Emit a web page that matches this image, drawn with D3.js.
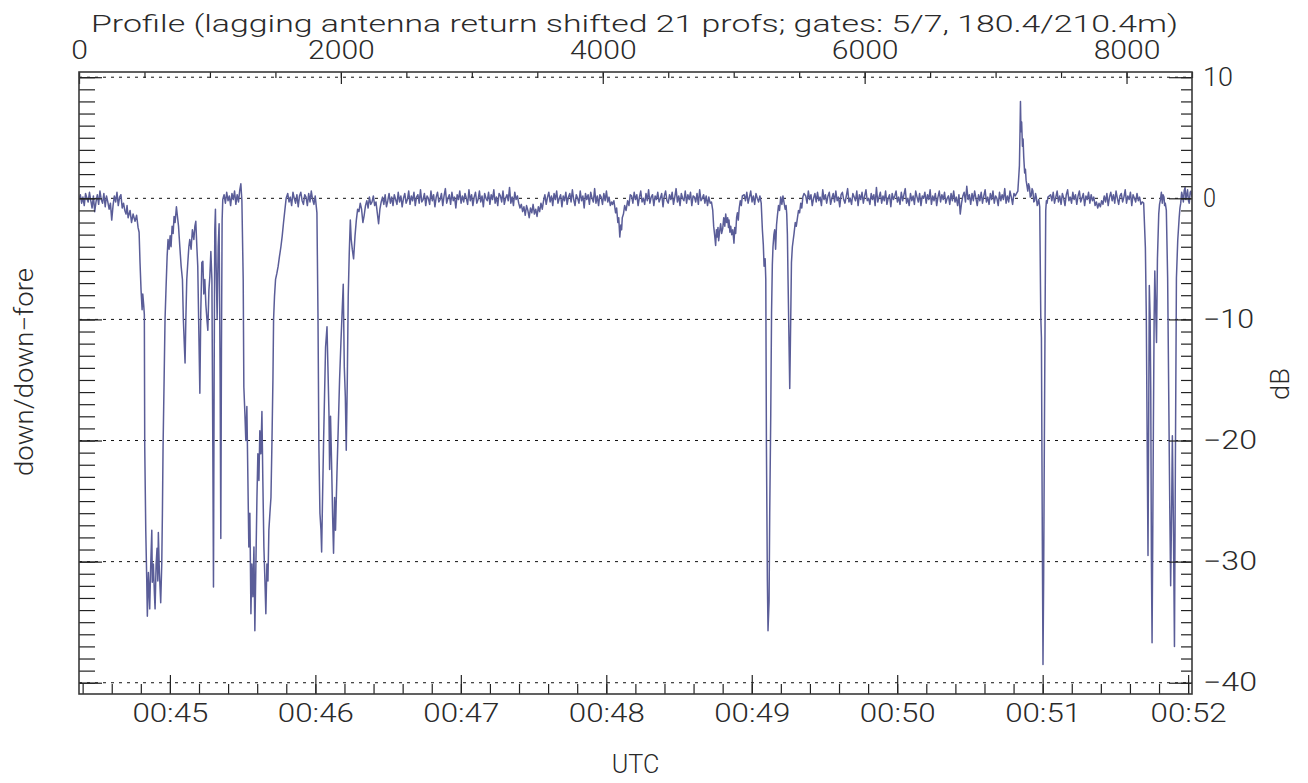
<!DOCTYPE html>
<html>
<head>
<meta charset="utf-8">
<script src="https://cdn.jsdelivr.net/npm/d3@7"></script>
<style>
  html, body { margin: 0; padding: 0; background: #fff; }
  svg { display: block; }
</style>
</head>
<body>
<script>
// ---------------- text ----------------
const titleText = "Profile (lagging antenna return shifted 21 profs; gates: 5/7, 180.4/210.4m)";
const leftTitle = "down/down\u2212fore";
const rightTitle = "dB";
const bottomTitle = "UTC";

// ---------------- ticks ----------------
const profileMajor = [0, 2000, 4000, 6000, 8000];
const utcMajorSec = [2700, 2760, 2820, 2880, 2940, 3000, 3060, 3120];
const utcLabels = ["00:45", "00:46", "00:47", "00:48", "00:49", "00:50", "00:51", "00:52"];
const dbMajor = [10, 0, -10, -20, -30, -40];

// ---------------- data (profile index, dB) ----------------
// quiet stretches: regularly sampled (start profile, sample step, values)
const quietStart = { start: 0, step: 10, values: [
  -0.1,0.3,-0.4,0.1,-0.6,0.4,0.0,-0.3,0.5,-0.2,
  -0.8,0.2,-1.1,-0.3,0.3,-0.5,0.6,-0.1,-0.4,0.4,
  -0.7,0.2,-0.3,-0.9,-0.4,-1.8,-0.6,0.2,-0.3,0.5,
  -0.6,0.1,0.3,-0.8,-0.4,-1.0] };

const eventA = [
  [359,-1.3],[367,-0.6],[375,-1.6],[390,-1.0],[401,-2.0],[413,-1.3],[428,-1.9],[440,-1.4],[451,-2.4],[459,-2.8],
  [466,-5.3],[474,-7.6],[482,-9.2],[487,-7.9],[494,-8.8],[499,-9.6],[502,-20.5],[510,-27.5],[517,-31.3],[522,-34.5],
  [530,-30.9],[535,-32.3],[540,-33.9],[548,-30.2],[556,-27.4],[560,-31.7],[568,-30.2],[576,-32.7],[581,-33.9],[589,-30.2],
  [596,-28.9],[602,-31.6],[606,-27.6],[614,-30.9],[624,-33.4],[632,-30.2],[637,-26.0],[642,-20.5],[650,-15.0],[657,-10.0],
  [665,-7.3],[673,-4.8],[680,-3.4],[688,-4.2],[696,-3.1],[703,-4.0],[711,-2.3],[719,-2.9],[726,-1.5],[734,-2.0],
  [744,-0.7],[752,-1.5],[760,-2.3],[770,-4.0],[780,-5.6],[790,-6.7],[797,-10.0],[805,-12.3],[810,-13.6],[816,-10.0],
  [823,-6.7],[831,-5.3],[839,-4.0],[846,-3.4],[856,-4.2],[866,-2.6],[877,-3.4],[885,-2.3],[892,-1.9],[900,-4.0],
  [907,-5.6],[915,-10.9],[923,-16.1],[930,-9.4],[938,-5.3],[946,-5.2],[953,-7.9],[961,-6.7],[969,-8.8],[977,-10.0],
  [984,-10.9],[992,-7.6],[999,-6.5],[1007,-4.4],[1015,-6.7],[1022,-20.5],[1027,-32.1],[1032,-15.0],[1037,-2.6],[1042,-0.9],
  [1047,-5.3],[1055,-10.0],[1063,-4.0],[1070,-2.1],[1078,-15.0],[1083,-28.1],[1088,-12.3],[1093,-1.8],[1098,-0.1],
  [1108,0.3],[1118,-0.4],[1128,0.5],[1138,-0.2],[1148,0.2],[1158,-0.6],[1168,0.4],[1178,-0.1],[1188,0.6],[1198,-0.5],
  [1208,0.3],[1218,-0.3],[1228,0.7],[1236,1.2],[1244,-0.2]];

const eventB = [
  [1254,-6.7],[1259,-15.6],[1267,-17.8],[1274,-20.0],[1282,-17.2],[1290,-23.3],[1297,-28.8],[1305,-26.0],[1313,-34.3],[1320,-30.2],
  [1328,-32.9],[1336,-28.8],[1343,-35.7],[1351,-30.2],[1359,-24.7],[1366,-21.1],[1374,-23.3],[1381,-19.2],[1389,-21.1],[1397,-17.6],
  [1404,-23.3],[1412,-28.8],[1420,-31.6],[1427,-34.3],[1435,-30.2],[1443,-31.6],[1450,-27.4],[1458,-26.0],[1466,-24.7],[1473,-20.5],
  [1481,-15.0],[1486,-10.0],[1493,-8.1],[1501,-6.7],[1511,-6.2],[1521,-5.6],[1531,-4.8],[1542,-4.0],[1552,-3.1],[1562,-2.0],
  [1572,-1.0],[1582,0.0]];

const quietB = { start: 1594, step: 10, values: [
  0.4,-0.3,0.1,-0.6,0.5,0.0,-0.4,0.3,-0.7,0.2,
  0.5,-0.2,-0.5,0.3,0.1,-0.6,0.4,-0.3,0.6,-0.1,
  -0.5,0.2] };

const eventC = [
  [1817,-1.2],[1825,-9.5],[1832,-20.5],[1840,-26.0],[1848,-27.4],[1853,-29.2],[1860,-24.7],[1868,-20.0],[1875,-16.4],[1883,-12.3],
  [1894,-10.6],[1901,-13.9],[1909,-17.8],[1914,-22.4],[1921,-18.0],[1929,-21.9],[1937,-26.3],[1944,-29.3],[1952,-24.7],[1959,-27.4],
  [1970,-22.7],[1980,-18.9],[1990,-15.0],[2001,-11.7],[2011,-9.0],[2018,-7.1],[2026,-13.9],[2034,-16.4],[2041,-20.8],[2049,-15.0],
  [2056,-8.1],[2064,-4.5],[2072,-1.8],[2079,-3.4],[2087,-4.2],[2097,-5.0],[2108,-3.1],[2118,-1.8],[2128,-0.9],[2138,-1.1]];

const quietC = { start: 2148, step: 10, values: [
  -0.4,-0.9,-2.0,-1.4,-0.6,-0.2,-0.8,0.1,-0.5,-0.3,
  0.2,-0.6,-0.3,-1.2,-2.1,-0.9,-0.3,0.1,-0.5,0.3,
  -0.7,-0.2,0.4,-0.4,0.1,-0.6,0.3,-0.1,-0.5,0.5,
  -0.3,0.2,-0.7,0.0,0.4,-0.4,-0.1,0.6,-0.5,0.2,
  -0.2,0.5,-0.6,0.1,0.3,-0.4,0.7,-0.3,-0.1,0.4,
  -0.6,0.2,0.0,-0.5,0.6,-0.2,0.3,-0.7,0.1,0.5,
  -0.3,-0.1,0.4,-0.6,0.2,0.8,-0.4,0.0,0.3,-0.5,
  0.5,-0.2,0.1,-0.8,0.3,-0.1,0.6,-0.4,0.2,-0.3,
  0.4,0.0,-0.5,0.7,-0.2,0.3,-0.6,0.1,0.5,-0.4,
  -0.1,0.6,-0.3,0.2,-0.7,0.4,0.0,-0.2,0.5,-0.5,
  0.3,-0.1,0.7,-0.4,0.1,-0.6,0.4,0.2,-0.3,0.6,
  -0.5,0.0,0.3,-0.2,0.9,-0.4,0.1,-0.6,0.5,-0.1,
  0.2,-0.4,-0.8,-0.5,-1.1,-0.7,-1.4,-0.6,-1.0,-1.6,
  -0.8,-1.2,-0.5,-1.3,-0.9,-1.5,-0.7,-1.1,-0.4,-0.9,
  -0.2,0.3,-0.5,0.1,0.5,-0.3,0.2,-0.6,0.4,-0.1,
  0.6,-0.4,0.0,0.3,-0.7,0.2,-0.2,0.5,-0.5,0.1,
  0.4,-0.3,0.7,-0.1,-0.6,0.3,0.0,-0.4,0.6,-0.2,
  0.2,-0.8,0.4,-0.1,0.3,-0.5,0.5,0.0,-0.3,0.8,
  -0.4,0.2,-0.6,0.3,0.1,-0.5,0.4,-0.2,0.6,-0.3,
  0.1,-0.6,-0.3] };

const eventD = [
  [4075,-0.5],[4085,-0.2],[4098,-1.2],[4106,-0.8],[4115,-2.0],[4122,-1.6],[4130,-3.2],[4138,-2.2],[4144,-2.6],[4149,-1.6],
  [4158,-1.3],[4167,-0.6],[4178,-1.0],[4190,-0.2],[4200,-0.6],[4210,0.3]];

const quietD = { start: 4220, step: 10, values: [
  0.2,-0.4,0.5,-0.1,0.3,-0.6,0.1,0.6,-0.3,0.0,
  -0.5,0.4,-0.2,0.7,-0.4,0.1,0.3,-0.6,0.2,-0.1,
  0.5,-0.3,0.0,0.4,-0.7,0.2,0.6,-0.2,-0.4,0.3,
  -0.1,0.5,-0.5,0.1,0.8,-0.3,0.2,-0.6,0.4,0.0,
  -0.2,0.6,-0.4,0.3,-0.1,0.5,-0.6,0.2,0.1,-0.3,
  0.4,-0.5,0.7,-0.2,0.0,0.3,-0.4,0.2,-0.6,0.1,
  -0.4] };

const eventE = [
  [4830,-0.3],[4840,-1.0],[4847,-2.3],[4855,-3.1],[4862,-3.9],[4868,-2.6],[4873,-3.2],[4880,-2.4],[4885,-3.5],[4893,-2.7],
  [4900,-2.1],[4908,-2.9],[4916,-2.5],[4924,-1.6],[4932,-2.3],[4939,-1.3],[4946,-2.0],[4954,-1.6],[4960,-2.4],[4964,-1.8],
  [4971,-2.8],[4977,-2.3],[4985,-3.0],[4993,-2.6],[5002,-3.7],[5008,-2.4],[5015,-2.9],[5022,-1.6],[5028,-1.2],[5035,-1.8],
  [5042,-0.8],[5050,-0.2],[5058,-0.6],[5066,0.2]];

const quietE = { start: 5080, step: 10, values: [0.3,-0.2,0.5,-0.4,0.1,0.6,-0.3,0.2,-0.5,0.4,0.0,-0.3,0.2] };

const eventF = [
  [5210,-0.4],[5219,-2.6],[5226,-3.8],[5232,-5.6],[5240,-5.0],[5245,-6.7],[5250,-20.5],[5257,-31.5],[5262,-35.7],[5270,-33.3],
  [5275,-26.0],[5283,-17.8],[5289,-9.5],[5295,-5.5],[5300,-4.0],[5307,-3.0],[5313,-2.6],[5320,-4.2],[5327,-2.2],[5334,-1.4],
  [5342,-0.6],[5350,-1.0],[5359,0.1],[5368,-0.5],[5376,0.2],[5385,-0.4],[5393,-0.9],[5400,-0.6],[5405,-1.3],[5410,-3.0],
  [5415,-6.7],[5423,-12.3],[5428,-15.7],[5436,-9.5],[5441,-5.3],[5448,-4.0],[5455,-3.4],[5461,-2.9],[5470,-2.0],[5478,-2.3],
  [5487,-1.6],[5495,-1.0],[5503,-1.2],[5512,-0.4],[5520,-0.8],[5528,0.1],[5537,0.4]];

const quietF = { start: 5550, step: 10, values: [
  0.2,-0.4,0.6,-0.1,0.3,-0.6,0.0,0.4,-0.3,0.5,
  -0.2,0.1,-0.6,0.7,-0.1,0.3,-0.4,0.2,0.5,-0.5,
  0.0,0.4,-0.3,0.6,-0.2,0.1,-0.7,0.3,0.5,-0.1,
  -0.4,0.2,0.8,-0.3,0.0,-0.5,0.4,0.1,-0.2,0.6,
  -0.6,0.3,-0.1,0.5,-0.4,0.2,0.7,-0.2,0.0,-0.5,
  0.4,-0.1,0.3,-0.6,0.9,-0.3,0.1,0.5,-0.4,0.2,
  -0.2,0.6,-0.5,0.0,0.3,-0.7,0.4,-0.1,0.2,0.6,
  -0.3,0.1,-0.5,0.5,-0.2,0.3,0.8,-0.4,0.0,-0.6,
  0.4,-0.2,0.2,-0.5,0.6,0.1,-0.3,0.4,-0.6,0.2,
  0.0,0.5,-0.4,0.3,-0.1,0.7,-0.5,0.2,-0.2,0.4,
  -0.6,0.1,0.6,-0.3,0.3,-0.1,0.5,-0.4,0.0,0.2,
  -0.5,0.4,-0.2,0.6,-0.3,0.1,-0.6,0.3,-1.3,-0.4,
  0.2,0.5,-0.3,1.0,-0.1,0.3,-0.5,0.4,-0.2,0.6,
  0.0,-0.6,0.3,-0.2,0.5,-0.4,0.2,0.7,-0.3,0.1,
  -0.5,0.4,-0.1,0.6,-0.4,0.2,0.0,-0.6,0.5,-0.2,
  0.3,-0.1,0.8,-0.4,0.2,-0.3,0.6,0.1,-0.5,0.4,
  0.2,0.4] };

const eventG = [
  [7170,0.6],[7177,1.8],[7182,2.7],[7187,5.8],[7190,8.0],[7194,5.5],[7199,6.3],[7205,4.3],[7210,4.9],[7215,3.4],
  [7222,2.1],[7228,2.4],[7233,1.5],[7240,1.0],[7246,0.6],[7252,1.2],[7259,0.9],[7265,0.1],[7272,0.2],[7279,0.8],
  [7285,0.6],[7292,-0.3],[7298,-0.2],[7305,0.4],[7311,0.1],[7318,-0.6],[7324,-0.4],[7330,-0.1],[7337,-0.7],[7345,-9.7],
  [7350,-11.5],[7357,-28.3],[7362,-38.5],[7367,-31.4],[7373,-19.0],[7378,-9.7],[7383,-1.0],[7388,-0.2],[7393,-0.4],[7400,0.1]];

const quietG = { start: 7420, step: 10, values: [
  0.3,-0.2,0.5,-0.4,0.1,0.6,-0.3,0.2,-0.5,0.4,
  0.0,-0.6,0.3,0.7,-0.2,0.1,-0.4,0.5,-0.1,0.3,
  -0.5,0.2,0.6,-0.3,0.0,0.4,-0.6,0.2,-0.1,0.5,
  -0.4,0.3,-0.2,0.1,-0.6,-0.3,-0.8,-0.4,-0.7,-0.2,
  -0.5,0.2,-0.3,0.4,-0.6,0.1,0.5,-0.2,0.3,-0.4,
  0.6,0.0,-0.5,0.2,0.4,-0.3,0.1,0.7,-0.4,0.2,
  -0.1,0.5,-0.6,0.3,0.0,-0.3,0.4,-0.2,0.1,-0.5,
  -0.3] };

const eventH = [
  [8131,-0.4],[8144,-4.1],[8151,-9.7],[8159,-22.1],[8164,-29.5],[8169,-19.0],[8174,-7.2],[8180,-9.7],[8185,-15.9],[8190,-29.8],
  [8195,-36.7],[8200,-28.3],[8205,-19.0],[8211,-9.7],[8216,-6.0],[8221,-8.4],[8229,-11.9],[8236,-5.0],[8246,-1.3],[8252,-0.5],
  [8259,-0.1],[8266,0.5],[8273,-0.4],[8279,0.3],[8286,0.1],[8291,-0.6],[8296,-0.4],[8304,-1.0],[8314,-6.6],[8322,-15.9],
  [8330,-25.2],[8337,-32.0],[8345,-25.2],[8350,-19.6],[8358,-26.7],[8366,-37.0],[8373,-22.1],[8381,-6.6],[8391,-3.5],[8402,-1.6],
  [8408,-0.8],[8414,-0.4],[8421,0.5],[8427,0.2],[8434,-0.3],[8440,0.6],[8447,0.9],[8453,-0.1],[8460,0.3],[8466,0.7],
  [8473,-0.2],[8479,-0.4],[8486,0.5],[8492,0.6],[8500,0.1]];

const pieces = [quietStart, eventA, eventB, quietB, eventC, quietC, eventD, quietD, eventE,
                quietE, eventF, quietF, eventG, quietG, eventH];

const series = [];
pieces.forEach(pc => {
  if (Array.isArray(pc)) pc.forEach(d => series.push(d));
  else pc.values.forEach((v, i) => series.push([pc.start + i * pc.step, v]));
});
series.sort((a, b) => a[0] - b[0]);

// ---------------- layout ----------------
const W = 1308, H = 783;
const L = 79, R = 1192, T = 72, B = 694;
const FONT = "Roboto, 'DejaVu Sans', sans-serif";
const TXT = "#2a2a2a";
const LINE = "#5a5d98";

const xProf = d3.scaleLinear().domain([0, 8500]).range([L, R]);
const xTime = d3.scaleLinear().domain([2662.5, 3121.6]).range([L, R]);
const y = d3.scaleLinear().domain([-40.93, 10.43]).range([B, T]);

const svg = d3.select("body").append("svg").attr("width", W).attr("height", H);
svg.append("rect").attr("width", W).attr("height", H).attr("fill", "#fff");

// gridlines
svg.append("g").selectAll("line").data(dbMajor).join("line")
  .attr("x1", L).attr("x2", R)
  .attr("y1", d => y(d)).attr("y2", d => y(d))
  .attr("stroke", "#111").attr("stroke-width", 1)
  .attr("stroke-dasharray", "3,5");

// data line
svg.append("clipPath").attr("id", "clip").append("rect")
  .attr("x", L).attr("y", T).attr("width", R - L).attr("height", B - T);
svg.append("path").datum(series)
  .attr("clip-path", "url(#clip)")
  .attr("fill", "none").attr("stroke", LINE).attr("stroke-width", 1.5)
  .attr("stroke-linejoin", "round")
  .attr("d", d3.line().x(d => xProf(d[0])).y(d => y(d[1])));

function styleAxis(g) {
  g.select(".domain").remove();
  g.selectAll(".tick line").attr("stroke", "#222").attr("stroke-width", 1.2);
  g.selectAll("text").attr("font-family", FONT).attr("font-weight", 300).attr("fill", TXT);
}

// bottom axis (UTC)
svg.append("g").attr("transform", `translate(0,${B})`)
  .call(d3.axisBottom(xTime).tickValues(d3.range(2664, 3122, 12)).tickSizeInner(-10).tickSizeOuter(0).tickFormat(""))
  .call(styleAxis);
svg.append("g").attr("transform", `translate(0,${B})`)
  .call(d3.axisBottom(xTime).tickValues(utcMajorSec).tickSizeInner(-19).tickSizeOuter(0).tickPadding(10)
        .tickFormat((d, i) => utcLabels[i]))
  .call(styleAxis)
  .call(g => g.selectAll("text").attr("font-size", 26).attr("textLength", 76).attr("lengthAdjust", "spacingAndGlyphs"));

// top axis (profile)
svg.append("g").attr("transform", `translate(0,${T})`)
  .call(d3.axisTop(xProf).tickValues(d3.range(0, 8501, 500)).tickSizeInner(-6).tickSizeOuter(0).tickFormat(""))
  .call(styleAxis);
svg.append("g").attr("transform", `translate(0,${T})`)
  .call(d3.axisTop(xProf).tickValues(profileMajor).tickSizeInner(-12).tickSizeOuter(0).tickPadding(13).tickFormat(d3.format("d")))
  .call(styleAxis)
  .call(g => g.selectAll("text").attr("font-size", 25)
        .attr("textLength", d => String(d).length * 16.7).attr("lengthAdjust", "spacingAndGlyphs"));

// left axis (ticks only)
svg.append("g").attr("transform", `translate(${L},0)`)
  .call(d3.axisLeft(y).tickValues(d3.range(-40, 11, 1)).tickSizeInner(-16).tickSizeOuter(0).tickFormat(""))
  .call(styleAxis);
svg.append("g").attr("transform", `translate(${L},0)`)
  .call(d3.axisLeft(y).tickValues(dbMajor).tickSizeInner(-23).tickSizeOuter(0).tickFormat(""))
  .call(styleAxis);

// right axis (dB)
svg.append("g").attr("transform", `translate(${R},0)`)
  .call(d3.axisRight(y).tickValues(d3.range(-40, 11, 1)).tickSizeInner(-11).tickSizeOuter(0).tickFormat(""))
  .call(styleAxis);
const rightLen = { "10": 30, "0": 13 };
svg.append("g").attr("transform", `translate(${R},0)`)
  .call(d3.axisRight(y).tickValues(dbMajor).tickSizeInner(-23).tickSizeOuter(0).tickPadding(11)
        .tickFormat(d => d < 0 ? "\u2212" + Math.abs(d) : String(d)))
  .call(styleAxis)
  .call(g => g.selectAll("text").attr("font-size", 25)
        .attr("textLength", d => rightLen[String(d)] || (d === -10 ? 51 : 54))
        .attr("lengthAdjust", "spacingAndGlyphs"));

// frame
svg.append("rect").attr("x", L).attr("y", T).attr("width", R - L).attr("height", B - T)
  .attr("fill", "none").attr("stroke", "#3a3a3a").attr("stroke-width", 1.6);

// titles
const txt = (s, x, yy, size, len, rot) => {
  const t = svg.append("text").text(s)
    .attr("font-family", FONT).attr("font-weight", 300).attr("font-size", size)
    .attr("fill", TXT).attr("text-anchor", "middle")
    .attr("textLength", len).attr("lengthAdjust", "spacingAndGlyphs");
  if (rot) t.attr("transform", `translate(${x},${yy}) rotate(${rot})`);
  else t.attr("x", x).attr("y", yy);
  return t;
};
txt(titleText, 634.5, 32, 24.5, 1087);
txt(bottomTitle, 635.5, 773, 25.5, 47.6);
txt(leftTitle, 33, 372, 25, 208, -90);
txt(rightTitle, 1289, 384, 25, 32, -90);
</script>
</body>
</html>
